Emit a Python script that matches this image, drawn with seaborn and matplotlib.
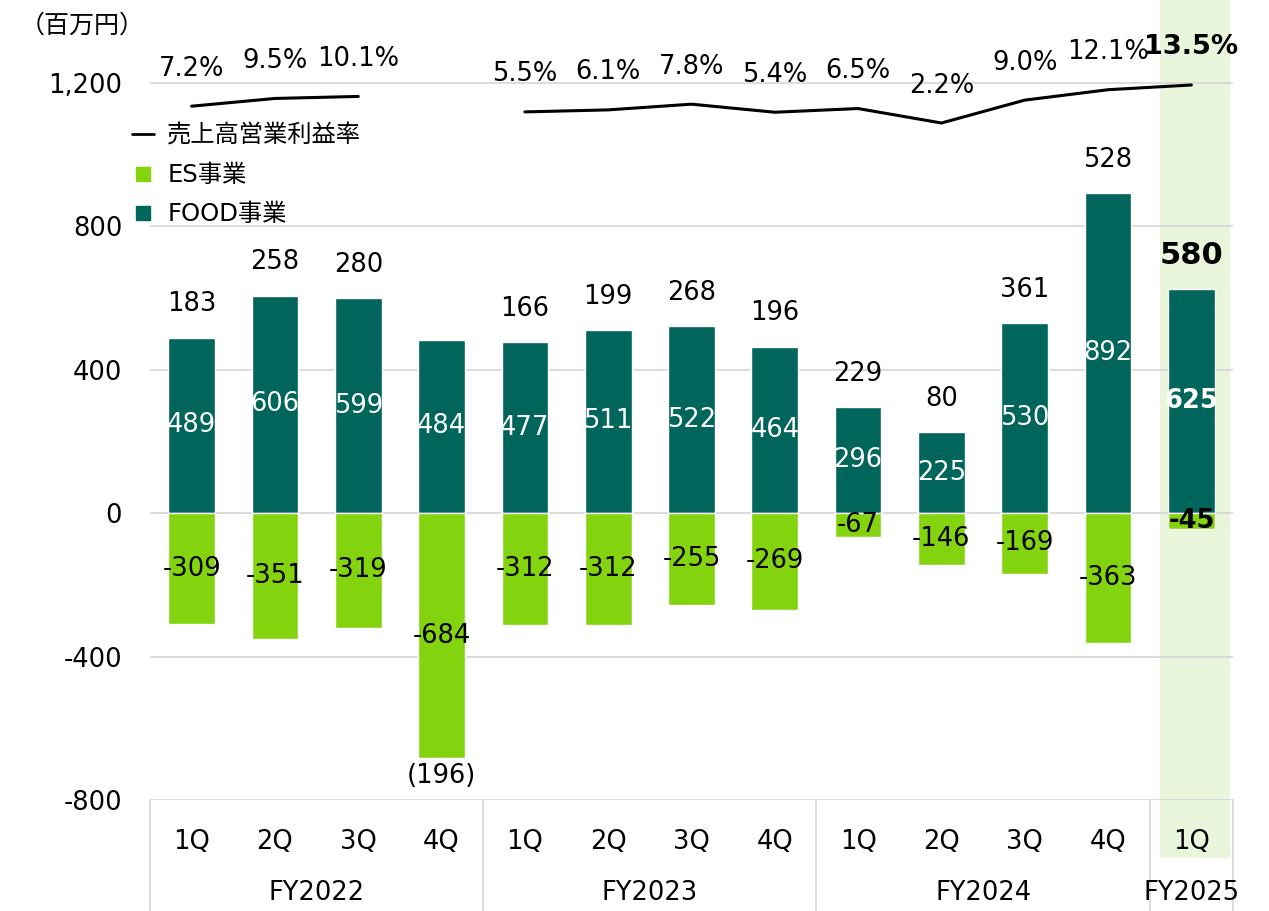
import numpy as np
import pandas as pd
import seaborn as sns
import matplotlib.pyplot as plt
from matplotlib.lines import Line2D
from matplotlib.patches import Rectangle

# data
fiscal_years = ["FY2022", "FY2023", "FY2024", "FY2025"]
quarters = ["1Q", "2Q", "3Q", "4Q", "1Q", "2Q", "3Q", "4Q", "1Q", "2Q", "3Q", "4Q", "1Q"]
year_of_bar = ["FY2022"] * 4 + ["FY2023"] * 4 + ["FY2024"] * 4 + ["FY2025"]
food = [489, 606, 599, 484, 477, 511, 522, 464, 296, 225, 530, 892, 625]
es = [-309, -351, -319, -684, -312, -312, -255, -269, -67, -146, -169, -363, -45]
total = [183, 258, 280, -196, 166, 199, 268, 196, 229, 80, 361, 528, 580]
margin = [7.2, 9.5, 10.1, np.nan, 5.5, 6.1, 7.8, 5.4, 6.5, 2.2, 9.0, 12.1, 13.5]
margin_seg = [0, 0, 0, 0, 1, 1, 1, 1, 1, 1, 1, 1, 1]

FOOD_C = "#00655A"
ES_C = "#84D30F"
GRID_C = "#D9D9D9"
BAND_C = "#EAF6DC"

sns.set_style("white")
plt.rcParams['font.family'] = ['DejaVu Sans', 'Noto Sans CJK JP']
plt.rcParams['text.color'] = 'black'
plt.rcParams['ytick.color'] = 'black'
plt.rcParams['xtick.color'] = 'black'

cats = [f"{y} {q}" for y, q in zip(year_of_bar, quarters)]
df = pd.DataFrame({"cat": cats, "food": food, "es": es, "margin": margin,
                   "seg": margin_seg, "idx": range(len(cats))})

W, H = 1269, 911
fig = plt.figure(figsize=(W / 100, H / 100), dpi=100)
ax = fig.add_axes([150 / W, 1 - 800 / H, (1233 - 150) / W, 790 / H])

n = len(cats)
fs = 18.5

# highlight band for latest quarter
band = Rectangle((11.62, -0.073), 0.84, 1.1, transform=ax.get_xaxis_transform(),
                 facecolor=BAND_C, edgecolor="none", zorder=0.2, clip_on=False)
ax.add_patch(band)

sns.barplot(data=df, x="cat", y="food", color=FOOD_C, saturation=1, width=0.56, ax=ax, zorder=2)
sns.barplot(data=df, x="cat", y="es", color=ES_C, saturation=1, width=0.56, ax=ax, zorder=2)

ax.set_xlim(-0.5, n - 0.5)
ax.set_ylim(-800, 1403)
ax.set_yticks([-800, -400, 0, 400, 800, 1200])
ax.set_yticklabels([f"{v:,}" for v in [-800, -400, 0, 400, 800, 1200]], fontsize=fs)
ax.set_xticks(range(n))
ax.set_xticklabels([""] * n)
ax.tick_params(length=0, axis="y", pad=20)
ax.tick_params(length=0, axis="x")
ax.set_xlabel("")
ax.set_ylabel("")
ax.set_axisbelow(True)
ax.yaxis.grid(True, color=GRID_C, lw=1.3)
for s in ax.spines.values():
    s.set_visible(False)

# bar value labels
for i in range(n):
    last = i == n - 1
    ax.annotate(f"{food[i]}", (i, food[i] / 2), ha="center", va="center", color="white",
                fontsize=fs, fontweight="bold" if last else "normal", zorder=5)
    ax.annotate(f"{es[i]}", (i, es[i] / 2), ha="center", va="center", color="black",
                fontsize=fs, fontweight="bold" if last else "normal", zorder=5)
    if total[i] >= 0:
        ax.annotate(f"{total[i]}", (i, food[i]), xytext=(0, 24), textcoords="offset points",
                    ha="center", va="center", fontsize=22 if last else fs,
                    fontweight="bold" if last else "normal")
    else:
        ax.annotate(f"({-total[i]})", (i, es[i]), xytext=(0, -13), textcoords="offset points",
                    ha="center", va="center", fontsize=fs)

# operating margin line on its own scale
ax2 = ax.twinx()
sns.lineplot(data=df.dropna(), x="idx", y="margin", units="seg", estimator=None,
             color="black", lw=2.2, ax=ax2, zorder=4)
ax2.set_ylim(-199.1, 35.8)
ax2.set_xlim(-0.5, n - 0.5)
ax2.set_yticks([])
ax2.set_ylabel("")
ax2.set_xlabel("")
for s in ax2.spines.values():
    s.set_visible(False)
for i in range(n):
    if np.isnan(margin[i]):
        continue
    last = i == n - 1
    ax2.annotate(f"{margin[i]:.1f}%", (i, margin[i]), xytext=(0, 27), textcoords="offset points",
                 ha="center", va="center", fontsize=19.5 if last else fs,
                 fontweight="bold" if last else "normal")

# category table under the axis
tr = ax.get_xaxis_transform()
for xb in [-0.5, 3.5, 7.5, 11.5, 12.5]:
    ax.add_line(Line2D([xb, xb], [0, -0.145], transform=tr, color=GRID_C, lw=1.3, clip_on=False))
for i, q in enumerate(quarters):
    ax.text(i, -0.053, q, transform=tr, ha="center", va="center", fontsize=fs)
fy_centers = [1.5, 5.5, 9.5, 12]
for c, fy in zip(fy_centers, fiscal_years):
    ax.text(c, -0.118, fy, transform=tr, ha="center", va="center", fontsize=fs)

# unit label
fig.text(20 / W, 1 - 26 / H, "（百万円）", ha="left", va="center", fontsize=18,
         family=["Noto Sans CJK JP", "DejaVu Sans"])

# legend
handles = [Line2D([], [], color="black", lw=2),
           Line2D([], [], marker="s", ls="", color=ES_C, markersize=9.5),
           Line2D([], [], marker="s", ls="", color=FOOD_C, markersize=9.5)]
labels = ["売上高営業利益率", "ES事業", "FOOD事業"]
fig.legend(handles, labels, loc="upper left", bbox_to_anchor=(132 / W, 1 - 124 / H),
           frameon=False, fontsize=17.5, handlelength=0.9, handletextpad=0.55,
           labelspacing=0.62, borderpad=0, borderaxespad=0)

fig.savefig("out.png", dpi=100)
